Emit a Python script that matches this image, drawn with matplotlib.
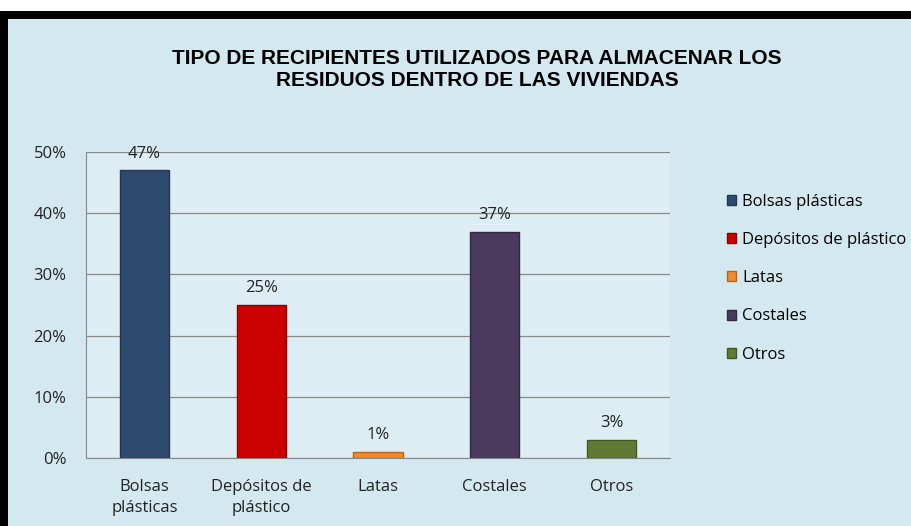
import matplotlib
matplotlib.use("Agg")
import matplotlib.pyplot as plt
from matplotlib.patches import Rectangle
from matplotlib.ticker import FuncFormatter

W, H = 911, 526

categories = ["Bolsas plásticas", "Depósitos de plástico", "Latas", "Costales", "Otros"]
tick_labels = ["Bolsas\nplásticas", "Depósitos de\nplástico", "Latas", "Costales", "Otros"]
values = [47, 25, 1, 37, 3]
value_labels = ["47%", "25%", "1%", "37%", "3%"]
colors = ["#2F4A6F", "#CC0000", "#EE8A30", "#4A3A5E", "#5F7A32"]
edge_colors = ["#22374F", "#8E0000", "#B8641C", "#33283F", "#435720"]
title = "TIPO DE RECIPIENTES UTILIZADOS PARA ALMACENAR LOS\nRESIDUOS DENTRO DE LAS VIVIENDAS"

BG = "#D4E8EF"
PLOT_BG = "#DCEEF3"
TEXT_FONT = ["Open Sans", "DejaVu Sans"]
FS = 12

fig = plt.figure(figsize=(W / 100, H / 100), dpi=100, facecolor="white")

# black frame on top/left, light blue chart area
fig.patches.append(Rectangle((0, 0), 1, (H - 11) / H, transform=fig.transFigure,
                             facecolor="black", edgecolor="none", zorder=-2))
fig.patches.append(Rectangle((8 / W, 0), 1 - 8 / W, (H - 19) / H, transform=fig.transFigure,
                             facecolor=BG, edgecolor="none", zorder=-1))

ax = fig.add_axes([86 / W, (H - 458) / H, (670 - 86) / W, (458 - 152) / H])
ax.set_facecolor(PLOT_BG)

x = range(len(categories))
bars = ax.bar(x, values, width=0.42, color=colors, edgecolor=edge_colors,
              linewidth=1.0, zorder=3)
for b, lab in zip(bars, value_labels):
    ax.text(b.get_x() + b.get_width() / 2, b.get_height() + 1.4, lab,
            ha="center", va="bottom", fontsize=FS, family=TEXT_FONT, color="#222222")

ax.set_xlim(-0.5, len(categories) - 0.5)
ax.set_ylim(0, 50)
ax.set_yticks([0, 10, 20, 30, 40, 50])
ax.yaxis.set_major_formatter(FuncFormatter(lambda v, p: f"{v:.0f}%"))
ax.set_xticks(list(x))
ax.set_xticklabels(tick_labels, family=TEXT_FONT, fontsize=FS, linespacing=1.4)
for t in ax.get_yticklabels():
    t.set_family(TEXT_FONT)
    t.set_fontsize(FS)
ax.tick_params(axis="both", length=0, colors="#222222")
ax.tick_params(axis="x", pad=15)
ax.tick_params(axis="y", pad=14)
ax.grid(axis="y", color="#888888", linewidth=0.9, zorder=0)
for s in ["top", "right"]:
    ax.spines[s].set_visible(False)
ax.spines["bottom"].set_color("#888888")
ax.spines["left"].set_color("#888888")

handles = [Rectangle((0, 0), 1, 1, facecolor=c, edgecolor=e) for c, e in zip(colors, edge_colors)]
fig.legend(handles, categories, loc="upper left", bbox_to_anchor=(722 / W, (H - 189) / H),
           frameon=False, handlelength=0.55, handleheight=0.55, handletextpad=0.35,
           labelspacing=1.33, borderaxespad=0, borderpad=0.3,
           prop={"family": TEXT_FONT, "size": FS})

fig.text(477 / W, (H - 69) / H, title, ha="center", va="center", fontsize=15,
         fontweight="bold", family=["Liberation Sans", "DejaVu Sans"], linespacing=1.2)

fig.savefig("out.png", dpi=100)
